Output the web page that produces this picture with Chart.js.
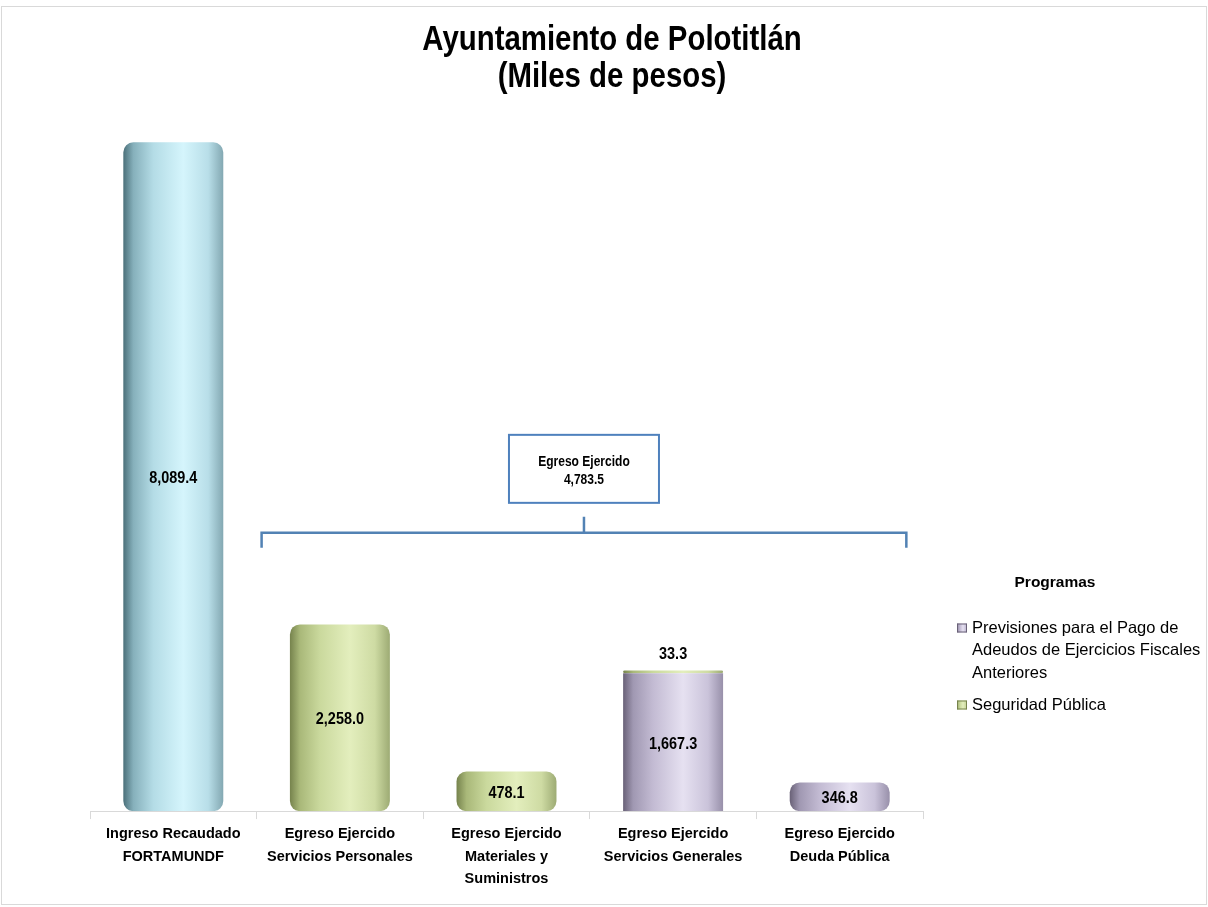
<!DOCTYPE html>
<html>
<head>
<meta charset="utf-8">
<script src="https://cdn.jsdelivr.net/npm/chart.js@4.4.1/dist/chart.umd.min.js"></script>
<style>
  html, body { margin: 0; padding: 0; background: #fff; }
  #wrap { width: 1208px; height: 907px; }
</style>
</head>
<body>
<div id="wrap"><canvas id="myChart" width="1208" height="907"></canvas></div>
<script>
//*** Datos
const categorias = [
  ["Ingreso Recaudado", "FORTAMUNDF"],
  ["Egreso Ejercido", "Servicios Personales"],
  ["Egreso Ejercido", "Materiales y", "Suministros"],
  ["Egreso Ejercido", "Servicios Generales"],
  ["Egreso Ejercido", "Deuda Pública"],
];
const ingreso = [8089.4, null, null, null, null];
const previsiones = [null, null, null, 1667.3, 346.8];
const seguridad = [null, 2258.0, 478.1, 33.3, null];
const nombresSeries = [
  "Previsiones para el Pago de Adeudos de Ejercicios Fiscales Anteriores",
  "Seguridad Pública",
];
const titulo = ["Ayuntamiento de Polotitlán", "(Miles de pesos)"];
const tituloLeyenda = "Programas";
const etiquetaEgreso = "Egreso Ejercido";

//*** Colores (cilindro)
const stops = [0, 0.1, 0.3, 0.6, 0.85, 1];
const azul = ["#4b707a", "#86b0bb", "#b4dce6", "#d5f5fc", "#b8dee8", "#83a8b2"];
const verde = ["#76834d", "#a9b879", "#cad99d", "#e3eebd", "#cedba3", "#9dab74"];
const morado = ["#696177", "#a098b2", "#c3bbd3", "#e6e1f1", "#cac3da", "#9890aa"];

const fmt = (v) =>
  v.toLocaleString("en-US", { minimumFractionDigits: 1, maximumFractionDigits: 1 });

const cilindro = (colores) => (c) => {
  const chart = c.chart;
  const xs = chart.scales.x;
  if (!xs || c.dataIndex === undefined) return colores[3];
  const cat = xs.width / categorias.length;
  const w = cat * 0.6;
  const cx = xs.getPixelForValue(c.dataIndex);
  if (!isFinite(cx) || !isFinite(w) || w <= 0) return colores[3];
  const g = chart.ctx.createLinearGradient(cx - w / 2, 0, cx + w / 2, 0);
  stops.forEach((s, i) => g.addColorStop(s, colores[i]));
  return g;
};

// texto angosto (comprimido horizontalmente)
const textoAngosto = (ctx, txt, x, y, sx) => {
  ctx.save();
  ctx.translate(x, y);
  ctx.scale(sx, 1);
  ctx.fillText(txt, 0, 0);
  ctx.restore();
};

//*** Plugins
const fondo = {
  id: "fondo",
  beforeDraw(chart) {
    const ctx = chart.ctx;
    ctx.save();
    ctx.fillStyle = "#fff";
    ctx.fillRect(0, 0, chart.width, chart.height);
    ctx.strokeStyle = "#d9d9d9";
    ctx.lineWidth = 1;
    ctx.strokeRect(1.5, 6.5, chart.width - 3, chart.height - 9);
    ctx.restore();
  },
};

const encabezado = {
  id: "encabezado",
  afterDraw(chart) {
    const ctx = chart.ctx;
    ctx.save();
    ctx.fillStyle = "#000";
    ctx.textAlign = "center";
    ctx.textBaseline = "alphabetic";
    ctx.font = "bold 35px 'Liberation Sans', Arial, sans-serif";
    textoAngosto(ctx, titulo[0], 612, 50, 0.84);
    textoAngosto(ctx, titulo[1], 612, 87, 0.84);
    ctx.restore();
  },
};

const etiquetas = {
  id: "etiquetas",
  afterDatasetsDraw(chart) {
    const ctx = chart.ctx;
    ctx.save();
    ctx.font = "bold 17px 'Liberation Sans', Arial, sans-serif";
    ctx.fillStyle = "#000";
    ctx.textAlign = "center";
    ctx.textBaseline = "middle";
    chart.data.datasets.forEach((ds, di) => {
      const meta = chart.getDatasetMeta(di);
      meta.data.forEach((el, i) => {
        const v = ds.data[i];
        if (v === null || v === undefined) return;
        const h = Math.abs(el.base - el.y);
        const y = h < 20 ? el.y - 16 : (el.y + el.base) / 2 + 2;
        textoAngosto(ctx, fmt(v), el.x, y, 0.85);
      });
    });
    ctx.restore();
  },
};

const llave = {
  id: "llave",
  afterDraw(chart) {
    const ctx = chart.ctx;
    const xs = chart.scales.x;
    const ys = chart.scales.y;
    const cat = xs.width / categorias.length;
    const x1 = xs.getPixelForValue(1) - cat / 2 + 5;
    const x2 = xs.getPixelForValue(4) + cat * 0.4;
    const yl = ys.getPixelForValue(3365);
    const xm = (x1 + x2) / 2;
    let total = 0;
    previsiones.concat(seguridad).forEach((v) => { if (v) total += v; });

    ctx.save();
    ctx.strokeStyle = "#5282b4";
    ctx.lineWidth = 2.5;
    ctx.beginPath();
    ctx.moveTo(x1, yl + 15);
    ctx.lineTo(x1, yl);
    ctx.lineTo(x2, yl);
    ctx.lineTo(x2, yl + 15);
    ctx.moveTo(xm, yl);
    ctx.lineTo(xm, yl - 16);
    ctx.stroke();

    const bw = 150, bh = 68;
    const by = yl - 30 - bh;
    ctx.strokeStyle = "#4f81bd";
    ctx.lineWidth = 2;
    ctx.fillStyle = "#fff";
    ctx.fillRect(xm - bw / 2, by, bw, bh);
    ctx.strokeRect(xm - bw / 2, by, bw, bh);

    ctx.fillStyle = "#000";
    ctx.font = "bold 14.5px 'Liberation Sans', Arial, sans-serif";
    ctx.textAlign = "center";
    ctx.textBaseline = "middle";
    textoAngosto(ctx, etiquetaEgreso, xm, by + 27, 0.83);
    textoAngosto(ctx, fmt(total), xm, by + 45, 0.83);
    ctx.restore();
  },
};

const leyenda = {
  id: "leyenda",
  afterDraw(chart) {
    const ctx = chart.ctx;
    ctx.save();
    ctx.fillStyle = "#000";
    ctx.textBaseline = "middle";
    ctx.textAlign = "center";
    ctx.font = "bold 15.5px 'Liberation Sans', Arial, sans-serif";
    ctx.fillText(tituloLeyenda, 1055, 583);

    ctx.textAlign = "left";
    ctx.font = "16.5px 'Liberation Sans', Arial, sans-serif";
    const colores = [morado, verde];
    let y = 628;
    nombresSeries.forEach((txt, k) => {
      // marcador
      const g = ctx.createLinearGradient(957, 0, 967, 0);
      stops.forEach((s, i) => g.addColorStop(s, colores[k][i]));
      ctx.fillStyle = g;
      ctx.fillRect(957, y - 4.5, 10, 9);
      ctx.strokeStyle = colores[k][0];
      ctx.lineWidth = 1;
      ctx.strokeRect(957.5, y - 4, 9, 8);
      // texto con ajuste de linea
      ctx.fillStyle = "#000";
      const palabras = txt.split(" ");
      let linea = "";
      const lineas = [];
      palabras.forEach((p) => {
        const prueba = linea ? linea + " " + p : p;
        if (ctx.measureText(prueba).width > 234 && linea) {
          lineas.push(linea);
          linea = p;
        } else {
          linea = prueba;
        }
      });
      lineas.push(linea);
      lineas.forEach((l, j) => ctx.fillText(l, 972, y + j * 22.5));
      y += (lineas.length - 1) * 22.5 + 32;
    });
    ctx.restore();
  },
};

//*** Grafica
const config = {
  type: "bar",
  data: {
    labels: categorias,
    datasets: [
      {
        label: "Ingreso Recaudado",
        data: ingreso,
        backgroundColor: cilindro(azul),
      },
      {
        label: nombresSeries[0],
        data: previsiones,
        backgroundColor: cilindro(morado),
      },
      {
        label: nombresSeries[1],
        data: seguridad,
        backgroundColor: cilindro(verde),
      },
    ],
  },
  options: {
    responsive: false,
    animation: false,
    layout: { padding: { left: 90, right: 285, top: 100, bottom: 12.5 } },
    datasets: {
      bar: {
        categoryPercentage: 1,
        barPercentage: 0.6,
        borderRadius: 10,
        borderSkipped: false,
        borderWidth: 0,
      },
    },
    plugins: {
      legend: { display: false },
      tooltip: { enabled: false },
      title: { display: false },
    },
    scales: {
      x: {
        stacked: true,
        border: { display: true, color: "#d9d9d9", width: 1 },
        grid: {
          display: true,
          drawOnChartArea: false,
          drawTicks: true,
          tickLength: 8,
          color: "#d9d9d9",
        },
        ticks: {
          color: "#000",
          maxRotation: 0,
          padding: 4,
          font: {
            family: "'Liberation Sans', Arial, sans-serif",
            size: 14.5,
            weight: "bold",
            lineHeight: 1.55,
          },
        },
      },
      y: {
        stacked: true,
        display: false,
        min: 0,
        max: 8600,
      },
    },
  },
  plugins: [fondo, etiquetas, llave, leyenda, encabezado],
};

var myChart = new Chart(document.getElementById("myChart"), config);
</script>
</body>
</html>
